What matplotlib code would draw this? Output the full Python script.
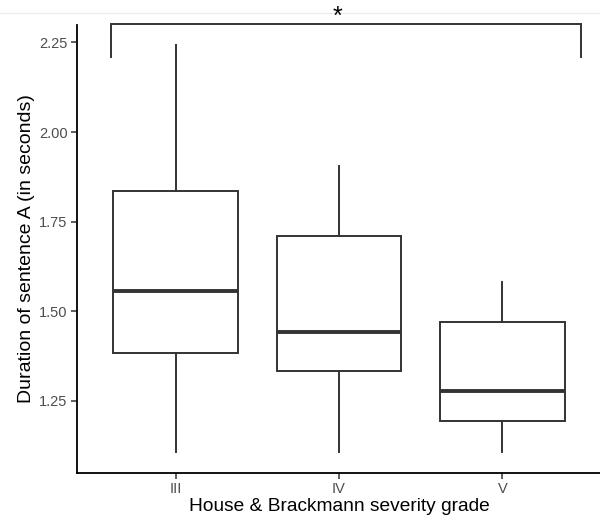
import matplotlib
matplotlib.use("Agg")
import matplotlib.pyplot as plt
from matplotlib.lines import Line2D

# data
grades = ["III", "IV", "V"]
whisker_low = [1.109, 1.109, 1.107]
q1 = [1.383, 1.334, 1.195]
median = [1.557, 1.443, 1.279]
q3 = [1.835, 1.711, 1.469]
whisker_high = [2.242, 1.906, 1.583]
y_ticks = [1.25, 1.50, 1.75, 2.00, 2.25]
signif_label = "*"

plt.rcParams["font.family"] = ["Liberation Sans", "DejaVu Sans"]

stats = []
for i, g in enumerate(grades):
    stats.append({
        "label": g,
        "whislo": whisker_low[i],
        "q1": q1[i],
        "med": median[i],
        "q3": q3[i],
        "whishi": whisker_high[i],
        "fliers": [],
    })

fig = plt.figure(figsize=(6, 5.21), dpi=100)
ax = fig.add_axes([0.129, 0.0927, 0.872, 0.859])

positions = list(range(1, len(grades) + 1))
edge = "#333333"
ax.bxp(
    stats,
    positions=positions,
    widths=0.76,
    patch_artist=True,
    showcaps=False,
    boxprops=dict(facecolor="white", edgecolor=edge, linewidth=1.4),
    whiskerprops=dict(color=edge, linewidth=1.4),
    medianprops=dict(color=edge, linewidth=2.8, solid_capstyle="butt"),
)

ax.set_xlim(0.4, 3.6)
ax.set_ylim(1.050, 2.298)
ax.set_xticks(positions)
ax.set_xticklabels(grades)
ax.set_yticks(y_ticks)
ax.set_yticklabels([f"{v:.2f}" for v in y_ticks])

for side in ["top", "right"]:
    ax.spines[side].set_visible(False)
for side in ["left", "bottom"]:
    ax.spines[side].set_linewidth(1.3)
    ax.spines[side].set_color("black")

ax.tick_params(axis="both", colors=edge, length=4, width=1.1,
               labelsize=10.5, labelcolor="#4d4d4d", pad=3)

ax.set_xlabel("House & Brackmann severity grade", fontsize=13.8, color="black", labelpad=1)
ax.set_ylabel("Duration of sentence A (in seconds)", fontsize=14, color="black", labelpad=3)

# significance bracket (III vs V)
bx = [0.605, 0.605, 3.48, 3.48]
by = [2.209, 2.300, 2.300, 2.209]
ax.plot(bx, by, color=edge, linewidth=1.4, clip_on=False, solid_joinstyle="miter")
ax.text(1.99, 2.321, signif_label, ha="center", va="center", fontsize=18, color="black", clip_on=False)

# faint line at the very top, as in the screenshot
fig.add_artist(Line2D([0, 1], [1 - 13 / 521, 1 - 13 / 521], color="#ececec", linewidth=1, zorder=0))

fig.savefig("out.png", dpi=100)
